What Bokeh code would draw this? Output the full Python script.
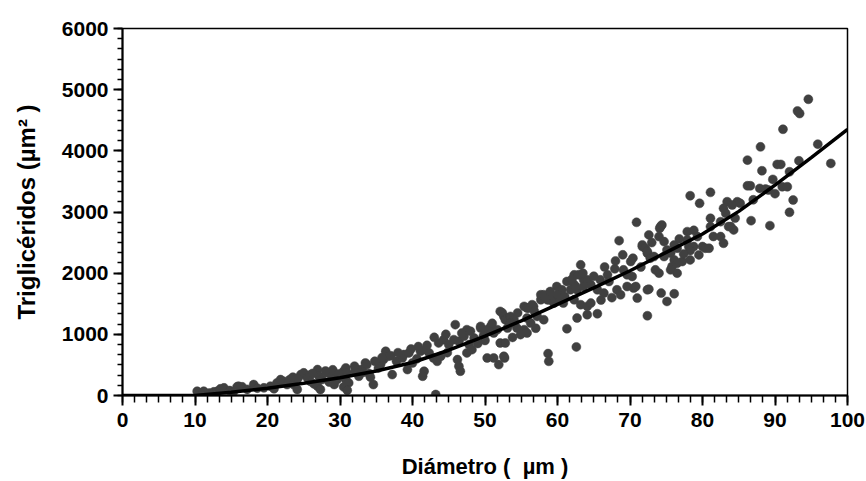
from bokeh.plotting import figure
from bokeh.models import Range1d, FixedTicker
from bokeh.embed import file_html
from bokeh.resources import INLINE

# Scatter data: Diámetro (µm) vs Triglicéridos (µm²)
diam = [
    10.3, 11.2, 12.0, 12.6, 13.1, 13.5, 14.0, 14.8, 15.3, 15.8, 16.0, 16.5, 17.2, 18.1, 18.6, 19.5,
    20.4, 20.9, 21.3, 22.2, 22.7, 23.1, 23.6, 24.1, 24.6, 25.0, 25.5, 25.9, 26.4, 26.9, 27.1, 27.5,
    26.9, 27.3, 28.2, 28.9, 29.6, 28.5, 29.2, 30.1, 30.5, 30.8, 31.0, 30.8, 31.2, 30.5, 31.0, 32.1,
    32.4, 32.6, 33.0, 33.5, 33.7, 34.0, 34.6, 34.2,
    35.3, 35.6, 36.0, 36.3, 36.6, 37.2, 37.8, 38.6, 38.8, 39.5, 39.3, 40.0, 40.6, 41.1, 41.8, 42.3,
    41.6, 41.4, 42.9, 43.9, 43.4, 43.0, 43.2, 44.3, 45.0, 45.7, 46.4, 45.9, 44.8, 46.2, 46.4, 46.6,
    47.5, 47.1, 47.8, 48.2, 47.5, 48.5, 49.4, 49.4, 50.3, 50.8, 51.2, 50.3, 51.2, 52.7, 51.9, 49.0, 50.0,
    50.8, 51.7, 53.1, 52.1, 52.4, 52.6, 52.8, 53.5, 54.0, 54.4, 55.4, 55.8, 54.9, 52.1, 52.8, 52.6,
    55.4, 56.0, 56.5, 55.8, 56.7, 57.7, 57.2, 58.1, 55.8, 56.3, 57.7, 58.3, 58.8, 58.1, 58.6, 59.5,
    59.5, 58.7, 58.8, 59.9, 60.6, 60.4, 60.8, 53.8, 57.0,
    61.3, 62.6, 62.3, 63.2, 64.1, 64.6, 64.1, 65.5, 62.7, 62.3, 61.8, 62.7, 61.3, 62.5, 62.3, 63.6,
    62.9, 63.2, 64.1, 64.6, 63.6, 65.5, 66.4, 65.9, 66.9, 67.1, 67.9, 68.2, 68.7, 68.5, 69.1, 69.6,
    69.6, 66.0, 67.5,
    70.3, 70.5, 71.0, 70.4, 70.1, 70.9, 71.7, 72.4, 72.6, 72.4, 72.4, 70.8, 72.6, 74.3, 76.1, 75.1,
    74.2, 74.4, 74.1, 74.0, 74.7, 71.7, 72.1, 72.4, 76.1, 76.5, 77.9, 77.9, 78.8, 78.1, 78.3, 79.3,
    75.1, 75.6, 72.8, 73.3, 74.7, 76.1, 76.5, 75.8, 77.2, 78.3, 73.5, 74.0, 75.6, 76.5, 77.4, 79.5,
    78.3, 79.6,
    80.0, 80.4, 80.9, 81.1, 81.1, 81.1, 82.5, 82.5, 82.9, 83.4, 84.8, 84.1, 82.9, 83.2, 83.9, 84.3,
    83.6, 85.2, 86.2, 86.2, 86.6, 86.7, 87.9, 88.7, 89.1, 88.0, 88.2, 89.3, 89.7, 90.3, 90.8, 91.0,
    91.7, 91.1, 92.0, 92.5, 92.0, 93.1, 93.4, 93.3, 94.6, 95.9, 97.7,
    21.8, 23.5, 24.2, 25.8, 26.2, 28.0, 29.0, 29.8, 32.0, 33.2, 34.8, 35.8, 37.0, 38.0, 39.8, 40.8,
    42.0, 43.6, 44.6, 46.8, 48.0, 49.8, 51.0, 53.5, 54.5, 56.8, 59.0, 60.0, 61.0, 62.0, 63.5, 65.0,
    66.5, 68.0, 69.0, 71.5, 73.0, 76.8, 78.8, 81.5, 84.5, 87.0, 90.0,
]
trig = [
    70, 70, 40, 60, 70, 109, 125, 80, 60, 142, 152, 142, 100, 179, 120, 125,
    152, 110, 206, 233, 179, 261, 179, 98, 342, 370, 288, 233, 190, 424, 315, 261,
    152, 98, 370, 315, 261, 220, 180, 315, 397, 451, 370, 261, 206, 140, 85, 397,
    424, 315, 424, 532, 505, 360, 179, 300,
    451, 505, 587, 723, 641, 342, 560, 614, 669, 696, 424, 532, 600, 723, 750, 696,
    397, 315, 614, 641, 559, 951, 16, 913, 832, 913, 886, 1158, 700, 587, 478, 397,
    1076, 967, 832, 750, 696, 940, 1103, 1130, 1076, 1130, 1022, 614, 614, 614, 505, 850, 900,
    1103, 1076, 1103, 1375, 1348, 1293, 1239, 1293, 1239, 1103, 1076, 1022, 995, 859, 859, 641,
    1457, 1430, 1484, 1430, 1457, 1565, 1293, 1239, 1267, 1185, 1647, 1619, 1565, 1647, 1565, 1592,
    1511, 685, 559, 1782, 1728, 1565, 1511, 950, 1100,
    1092, 794, 1565, 1484, 1457, 1511, 1321, 1337, 1267, 1810, 1728, 1728, 1864, 1782, 1973, 1891,
    1973, 2136, 1891, 1810, 1782, 1728, 1674, 1891, 1973, 1864, 2071, 1728, 1647, 2532, 2054, 1973,
    1782, 1560, 1600,
    1946, 1756, 1592, 2245, 2190, 2831, 2435, 2326, 2625, 1728, 1304, 1782, 1739, 1674, 1663, 1538,
    2761, 2788, 2734, 2598, 2516, 2462, 2408, 2353, 2462, 2408, 2679, 2543, 2435, 2435, 2369, 2598,
    2380, 2327, 2245, 2272, 2272, 2217, 2163, 2109, 2190, 2217, 2054, 2000, 2054, 2000, 2315, 2299,
    3266, 3142,
    2435, 2408, 2408, 3321, 2761, 2897, 2842, 2598, 2489, 3168, 3168, 3114, 3060, 2979, 2761, 2707,
    2761, 3142, 3848, 3429, 3429, 2858, 3386, 3375, 3359, 4065, 3674, 2777, 3533, 3778, 3778, 3413,
    3413, 4353, 3658, 3196, 2995, 4652, 4610, 3837, 4843, 4109, 3794,
    260, 300, 280, 330, 360, 400, 420, 350, 480, 380, 560, 620, 650, 700, 760, 800,
    820, 860, 1000, 1020, 1050, 980, 1180, 1180, 1350, 1380, 1700, 1650, 1620, 1900, 2000, 1950,
    2100, 2200, 2300, 2100, 2500, 2560, 2700, 2600, 2900, 3200, 3300,
]

# Fitted curve
curve_x = [0, 10, 15, 20, 25, 30, 35, 40, 45, 50, 55, 60, 65, 70, 75, 80, 85, 90, 95, 100]
curve_y = [0, 0, 55, 120, 200, 290, 400, 540, 740, 970, 1220, 1490, 1760, 2040, 2340, 2640, 3010, 3440, 3890, 4350]

x_ticks = [0, 10, 20, 30, 40, 50, 60, 70, 80, 90, 100]
y_ticks = [0, 1000, 2000, 3000, 4000, 5000, 6000]

p = figure(width=866, height=481, output_backend="svg", toolbar_location=None,
           x_range=Range1d(0, 100), y_range=Range1d(0, 6000),
           min_border_left=122, min_border_right=19, min_border_top=28, min_border_bottom=85)
p.background_fill_color = "white"
p.border_fill_color = "white"
p.outline_line_color = "black"
p.outline_line_width = 1.5
p.xgrid.grid_line_color = None
p.ygrid.grid_line_color = None

p.scatter(diam, trig, size=9, marker="circle", fill_color="#404040", line_color="#404040", line_width=0.5)
p.line(curve_x, curve_y, line_color="black", line_width=3.5)

font = "Liberation Sans"
for ax in (p.xaxis[0], p.yaxis[0]):
    ax.axis_line_color = "black"
    ax.axis_line_width = 2
    ax.major_tick_line_color = "black"
    ax.major_tick_line_width = 2
    ax.minor_tick_line_color = "black"
    ax.minor_tick_line_width = 1.5
    ax.major_tick_in = 0
    ax.minor_tick_in = 0
    ax.major_label_text_font = font
    ax.major_label_text_font_style = "bold"
    ax.major_label_text_font_size = "21px"
    ax.major_label_text_color = "black"
    ax.axis_label_text_font = font
    ax.axis_label_text_font_style = "bold"
    ax.axis_label_text_color = "black"

p.xaxis[0].axis_label_text_font_size = "22px"
p.yaxis[0].axis_label_text_font_size = "24px"
p.xaxis[0].ticker = FixedTicker(ticks=x_ticks, minor_ticks=[i * 10 / 6 for i in range(61)])
p.yaxis[0].ticker = FixedTicker(ticks=y_ticks, minor_ticks=[i * 1000 / 6 for i in range(37)])
p.xaxis[0].major_tick_out = 10
p.xaxis[0].minor_tick_out = 7
p.yaxis[0].major_tick_out = 9
p.yaxis[0].minor_tick_out = 5
p.xaxis[0].major_label_standoff = 7
p.yaxis[0].major_label_standoff = 5
p.xaxis[0].axis_label = "Diámetro (\u00a0 µm )"
p.yaxis[0].axis_label = "Triglicéridos (µm² )"
p.xaxis[0].axis_label_standoff = 24
p.yaxis[0].axis_label_standoff = 19

open("out.html", "w").write(file_html(p, INLINE))
